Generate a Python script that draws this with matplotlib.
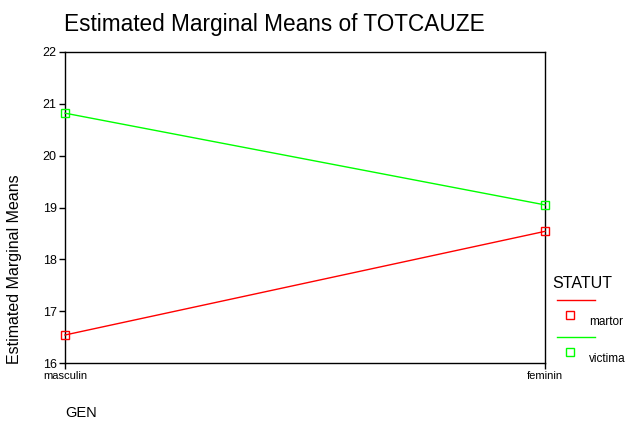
import matplotlib.pyplot as plt
from matplotlib.lines import Line2D

plt.rcParams['font.family'] = ['Liberation Sans', 'DejaVu Sans']

gen = ['masculin', 'feminin']
statut = ['martor', 'victima']
martor = [16.54, 18.54]
victima = [20.82, 19.05]
colors = ['#ff0000', '#00ff00']
yticks = [16, 17, 18, 19, 20, 21, 22]

W, H = 626, 422
fig = plt.figure(figsize=(W / 100, H / 100), dpi=100)
ax = fig.add_axes([65 / W, 1 - 363 / H, 480 / W, 311 / H])

x = range(len(gen))
for vals, c in zip([martor, victima], colors):
    ax.plot(x, vals, color=c, lw=1, marker='s', ms=6, mfc='none', mec=c,
            mew=1, clip_on=False, zorder=3)

ax.set_xlim(0, 1)
ax.set_ylim(16, 22)
ax.set_xticks(list(x))
ax.set_xticklabels(gen, fontsize=8)
ax.set_yticks(yticks)
ax.set_yticklabels([str(t) for t in yticks], fontsize=9)
ax.tick_params(direction='out', length=4, width=1, pad=2)
for s in ax.spines.values():
    s.set_linewidth(1)

fig.text(64 / W, 1 - 25 / H, 'Estimated Marginal Means of TOTCAUZE', fontsize=16.3,
         ha='left', va='center')
fig.text(15 / W, 1 - 269 / H, 'Estimated Marginal Means', fontsize=11.5,
         rotation=90, ha='center', va='center')
fig.text(65 / W, 1 - 413 / H, 'GEN', fontsize=10.5, ha='left', va='center')

# legend
fig.text(552 / W, 1 - 283 / H, 'STATUT', fontsize=11.5, ha='left', va='center')
for i, (name, c) in enumerate(zip(statut, colors)):
    y0 = 300 + i * 37
    fig.add_artist(Line2D([557 / W, 595 / W], [1 - y0 / H] * 2, color=c, lw=1,
                          transform=fig.transFigure))
    fig.add_artist(Line2D([570 / W], [1 - (y0 + 15) / H], color=c, marker='s', ms=6,
                          mfc='none', mec=c, mew=1, transform=fig.transFigure))
    fig.text(589 / W, 1 - (y0 + 22) / H, name, fontsize=8.5, ha='left', va='center')

fig.savefig('out.png', dpi=100)
